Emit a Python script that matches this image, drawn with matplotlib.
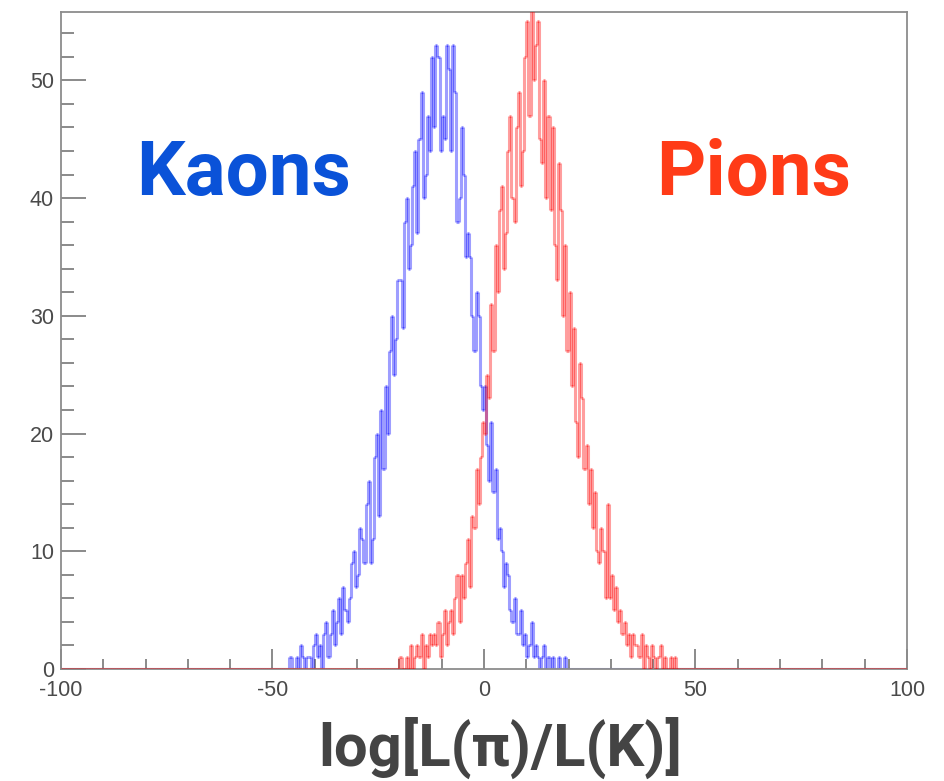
import numpy as np
import matplotlib
matplotlib.use("Agg")
import matplotlib.pyplot as plt
from matplotlib.ticker import MultipleLocator

plt.rcParams["axes.unicode_minus"] = False

# histogram binning: 400 bins over [-100, 100]
x_lo, x_hi, bin_w = -100.0, 100.0, 0.5

# kaon counts, first bin starts at -46
kaon_start = -46.0
kaon_counts = [
    1, 0, 0, 1, 0, 2, 1, 0, 1, 1, 0, 2,
    3, 1, 2, 0, 3, 4, 1, 3,
    5, 2, 4, 6, 3, 7, 5, 4,
    6, 9, 10, 7, 8, 12, 11, 9,
    14, 16, 9, 11, 18, 20, 13, 22,
    17, 24, 20, 27, 30, 25, 28, 33,
    33, 29, 38, 40, 34, 36, 41, 44,
    37, 45, 49, 40, 42, 47, 44, 52,
    46, 53, 52, 44, 47, 45, 53, 51,
    44, 53, 49, 38, 40, 46, 42, 35,
    37, 35, 30, 27, 32, 30, 24, 22,
    24, 19, 16, 21, 15, 17, 11, 12,
    10, 7, 9, 8, 5, 4, 6, 3,
    3, 5, 2, 3, 1, 2, 4, 1,
    2, 1, 0, 1, 2, 0, 1, 0,
    1, 0, 0, 1, 0, 0, 1, 0,
]

# pion counts, first bin starts at -20
pion_start = -20.0
pion_counts = [
    1, 0, 0, 1, 0, 2, 0, 1,
    2, 1, 3, 0, 2, 1, 3, 2,
    3, 2, 4, 1, 3, 5, 2, 4,
    5, 3, 6, 8, 4, 8, 6, 9,
    11, 7, 13, 12, 17, 14, 18, 21,
    20, 25, 23, 31, 27, 36, 32, 39,
    41, 34, 37, 44, 47, 40, 38, 46,
    49, 41, 44, 52, 55, 47, 58, 50,
    53, 55, 45, 43, 50, 40, 47, 39,
    46, 36, 33, 43, 39, 30, 36, 27,
    32, 24, 29, 21, 18, 26, 23, 17,
    19, 14, 17, 12, 15, 10, 9, 12,
    10, 6, 14, 6, 8, 5, 7, 4,
    5, 3, 4, 2, 3, 1, 3, 2,
    2, 1, 3, 0, 2, 1, 0, 2,
    1, 0, 1, 2, 0, 1, 0, 0,
    1, 0, 1, 0,
]

x_ticks = [-100, -50, 0, 50, 100]
y_ticks = [0, 10, 20, 30, 40, 50]


def full_hist(start, counts):
    nbins = int(round((x_hi - x_lo) / bin_w))
    h = np.zeros(nbins)
    i0 = int(round((start - x_lo) / bin_w))
    h[i0:i0 + len(counts)] = counts
    return h


def draw_outline(ax, h, color, alpha, lw, z):
    edges = np.linspace(x_lo, x_hi, len(h) + 1)
    y = np.concatenate([[0], h, [0]])
    # vertical risers and flat tops drawn as separate segments so overlaps darken
    ax.vlines(edges, y[:-1], y[1:], colors=color, alpha=alpha, lw=lw, zorder=z)
    ax.hlines(h, edges[:-1], edges[1:], colors=color, alpha=alpha, lw=lw, zorder=z)


fig = plt.figure(figsize=(9.44, 7.81), dpi=100)
ax = fig.add_axes([0.0646, 0.1434, 0.8962, 0.8412])

draw_outline(ax, full_hist(kaon_start, kaon_counts), (0.0, 0.0, 1.0), 0.38, 2.2, 2)
draw_outline(ax, full_hist(pion_start, pion_counts), (1.0, 0.0, 0.0), 0.38, 2.2, 3)

ax.set_xlim(x_lo, x_hi)
ax.set_ylim(0, 55.8)

ax.set_xticks(x_ticks)
ax.set_yticks(y_ticks)
ax.xaxis.set_minor_locator(MultipleLocator(10))
ax.yaxis.set_minor_locator(MultipleLocator(2))

frame_col = "#8c8c8c"
for s in ax.spines.values():
    s.set_color(frame_col)
    s.set_linewidth(1.3)

tick_font = ["Liberation Sans", "DejaVu Sans"]
ax.tick_params(axis="both", which="both", direction="in", color="#777777",
               width=1.2, labelcolor="#4a4a4a")
ax.tick_params(axis="x", which="major", length=14.4, pad=8)
ax.tick_params(axis="x", which="minor", length=7.2)
ax.tick_params(axis="y", which="major", length=18, pad=5)
ax.tick_params(axis="y", which="minor", length=9)
for lab in ax.get_xticklabels() + ax.get_yticklabels():
    lab.set_fontfamily(tick_font)
    lab.set_fontsize(15.5)

big_font = ["Roboto", "DejaVu Sans"]
ax.text(-56.8, 42.0, "Kaons", color="#0a52d8", fontsize=55, fontweight="bold",
        family=big_font, ha="center", va="center")
ax.text(63.8, 42.0, "Pions", color="#ff3b17", fontsize=55, fontweight="bold",
        family=big_font, ha="center", va="center")

fig.text(0.53, 0.042, "log[L(π)/L(K)]", color="#444444", fontsize=43,
         fontweight="bold", family=big_font, ha="center", va="center")

fig.savefig("out.png", dpi=100)
